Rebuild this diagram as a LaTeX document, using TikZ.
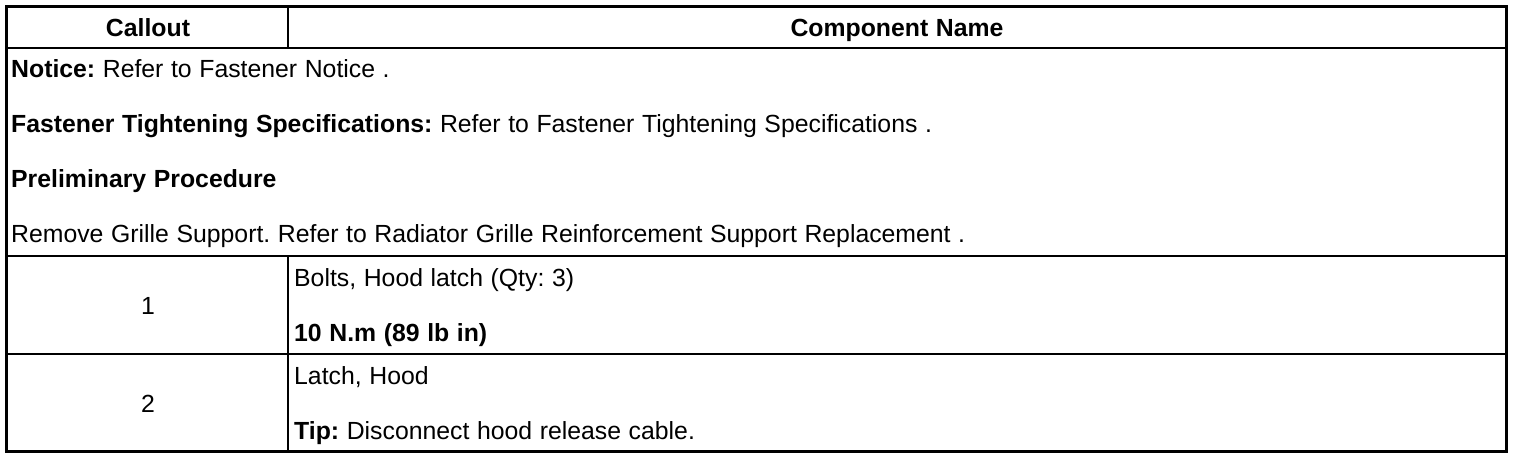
\documentclass[tikz,border=0pt]{standalone}
\usepackage{fontspec}
\setmainfont{Liberation Sans}
\newcommand{\tabfont}{\fontsize{24.8}{28}\selectfont\frenchspacing\spaceskip=7.6pt\relax}
\begin{document}
\begin{tikzpicture}[x=1pt,y=-1pt,
  txt/.style={anchor=base west,inner sep=0pt,font=\tabfont},
  ctxt/.style={anchor=base,inner sep=0pt,font=\tabfont},
  outer/.style={line width=3pt},
  inner/.style={line width=2pt}]
\useasboundingbox (0,0) rectangle (1520,458);
% grid
\draw[inner] (6,48) -- (1506,48);
\draw[inner] (6,256) -- (1506,256);
\draw[inner] (6,354) -- (1506,354);
\draw[inner] (288,6) -- (288,48);
\draw[inner] (288,256) -- (288,451);
\draw[outer] (6,6) rectangle (1506,451);
% header
\node[ctxt] (h1) at (148,36) {\textbf{Callout}};
\node[ctxt] (h2) at (897,36) {\textbf{Component Name}};
% notes
\node[txt] (n1) at (11,77) {\textbf{Notice:} Refer to Fastener Notice .};
\node[txt] (n2) at (11,132) {\textbf{Fastener Tightening Specifications:} Refer to Fastener Tightening Specifications .};
\node[txt] (n3) at (11,187) {\textbf{Preliminary Procedure}};
\node[txt] (n4) at (11,242) {Remove Grille Support. Refer to Radiator Grille Reinforcement Support Replacement .};
% row 1
\node[ctxt] (c1) at (148,314) {1};
\node[txt] (r1a) at (294,286) {Bolts, Hood latch (Qty: 3)};
\node[txt] (r1b) at (294,341) {\textbf{10 N.m (89 lb in)}};
% row 2
\node[ctxt] (c2) at (148,412) {2};
\node[txt] (r2a) at (294,384) {Latch, Hood};
\node[txt] (r2b) at (294,439) {\textbf{Tip:} Disconnect hood release cable.};
\end{tikzpicture}
\end{document}
